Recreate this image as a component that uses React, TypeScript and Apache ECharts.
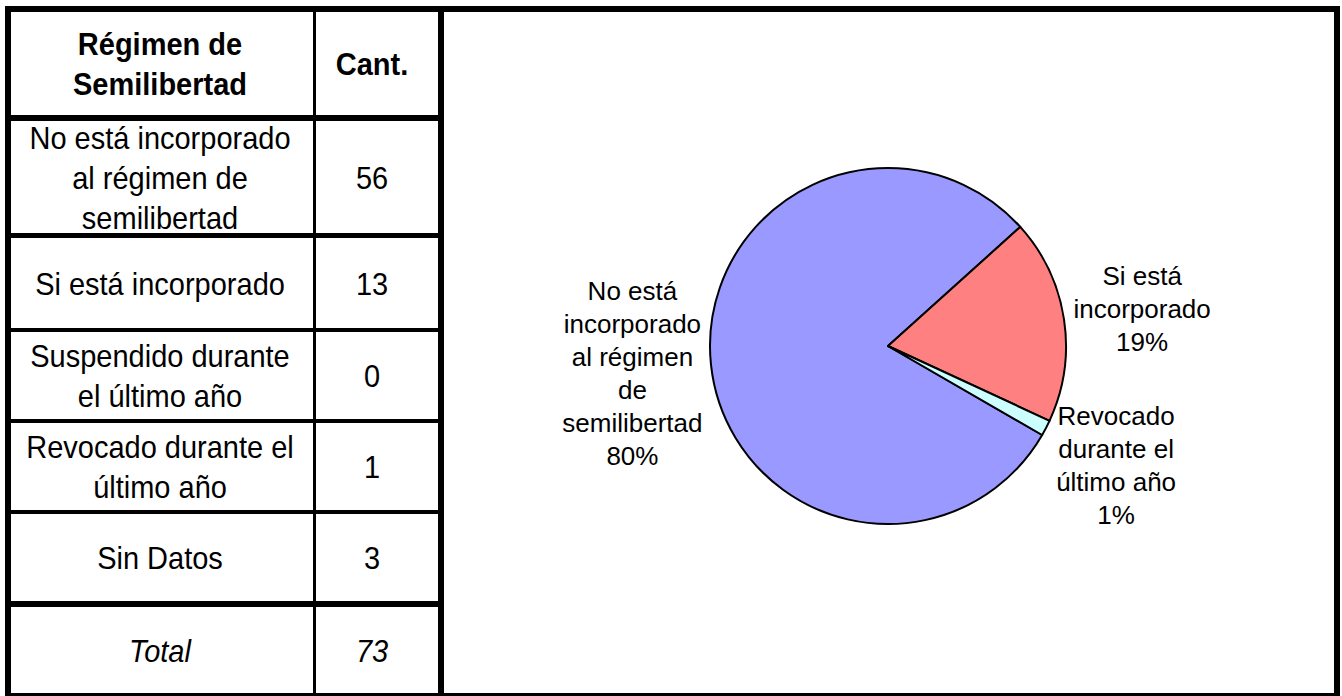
import React, { useEffect, useRef } from "react";
import * as echarts from "echarts";

// ---- data ----
const tableHeader = ["Régimen de\nSemilibertad", "Cant."];
const tableLabels = [
  "No está incorporado\nal régimen de\nsemilibertad",
  "Si está incorporado",
  "Suspendido durante\nel último año",
  "Revocado durante el\núltimo año",
  "Sin Datos",
];
const counts = [56, 13, 0, 1, 3];
const totalLabel = "Total";
const pieLabels = [
  "No está\nincorporado\nal régimen\nde\nsemilibertad",
  "Si está\nincorporado",
  "Suspendido\ndurante el\núltimo año",
  "Revocado\ndurante el\núltimo año",
  "Sin Datos",
];
const inPie = [true, true, true, true, false];
const sliceColors = ["#9999FF", "#FF8080", "#FFFFCC", "#CCFFFF", "#660066"];

const FONT = '"Liberation Sans", Arial, Helvetica, sans-serif';

export default function App() {
  const ref = useRef<HTMLDivElement>(null);
  useEffect(() => {
    if (!ref.current) return;
    const chart = echarts.init(ref.current, undefined, { renderer: "svg" });

    // layout of the table
    const xL = 5, xCol = 313, xSep = 438, xR = 1340, yT = 6, yB = 693;
    const hLines = [
      { y: 115, h: 6 },
      { y: 233, h: 5 },
      { y: 328, h: 4 },
      { y: 419, h: 4 },
      { y: 510, h: 4 },
      { y: 601, h: 6 },
    ];
    const rowEdges = [yT + 6, ...hLines.map((l) => l.y), yB];
    const rowBottomsTop = [yT + 6, ...hLines.map((l) => l.y + l.h)];
    const rowCenter = (i: number) => (rowBottomsTop[i] + rowEdges[i + 1]) / 2;
    const c1x = 160, c2x = 372;

    const black = { fill: "#000" };
    const g: any[] = [
      { type: "rect", shape: { x: xL, y: yT, width: xR - xL, height: 6 }, style: black },
      { type: "rect", shape: { x: xL, y: yB, width: xR - xL, height: 6 }, style: black },
      { type: "rect", shape: { x: xL, y: yT, width: 6, height: yB - yT + 6 }, style: black },
      { type: "rect", shape: { x: xR - 6, y: yT, width: 6, height: yB - yT + 6 }, style: black },
      { type: "rect", shape: { x: xSep, y: yT, width: 6, height: yB - yT + 6 }, style: black },
      { type: "rect", shape: { x: xCol, y: yT, width: 3, height: yB - yT }, style: black },
      ...hLines.map((l) => ({
        type: "rect",
        shape: { x: xL, y: l.y, width: xSep - xL, height: l.h },
        style: black,
      })),
    ];

    const sy = 1.1;
    const txt = (text: string, x: number, y: number, font: string) => ({
      type: "text",
      x,
      y,
      scaleY: sy,
      style: {
        text,
        font,
        fill: "#000",
        align: "center",
        verticalAlign: "middle",
        lineHeight: 40 / sy,
      },
    });
    const bodyFont = `29px ${FONT}`;
    g.push(txt(tableHeader[0], c1x, rowCenter(0), `bold 29px ${FONT}`));
    g.push(txt(tableHeader[1], c2x, rowCenter(0), `bold 29px ${FONT}`));
    tableLabels.forEach((lab, i) => {
      g.push(txt(lab, c1x, rowCenter(i + 1), bodyFont));
      g.push(txt(String(counts[i]), c2x, rowCenter(i + 1), bodyFont));
    });
    const total = counts.reduce((a, b) => a + b, 0);
    g.push(txt(totalLabel, c1x, rowCenter(6), `italic 29px ${FONT}`));
    g.push(txt(String(total), c2x, rowCenter(6), `italic 29px ${FONT}`));

    // pie
    const pieData = counts
      .map((v, i) => ({ v, i }))
      .filter((d) => inPie[d.i] && d.v > 0)
      .map((d) => ({
        name: pieLabels[d.i],
        value: d.v,
        itemStyle: { color: sliceColors[d.i] },
      }));
    const pieTotal = pieData.reduce((a, d) => a + d.value, 0);
    const cx = 888, cy = 346, radius = 178, startAngle = 330, labelR = 257;
    const cum: number[] = [];
    pieData.reduce((acc, d) => {
      cum.push(acc);
      return acc + d.value;
    }, 0);

    chart.setOption({
      animation: false,
      backgroundColor: "#fff",
      graphic: g,
      series: [
        {
          type: "pie",
          center: [cx, cy],
          radius,
          startAngle,
          clockwise: true,
          percentPrecision: 0,
          data: pieData,
          itemStyle: { borderColor: "#000", borderWidth: 2 },
          label: {
            show: true,
            formatter: "{b}\n{d}%",
            fontFamily: FONT,
            fontSize: 26,
            lineHeight: 33,
            color: "#000",
            align: "center",
          },
          labelLine: { show: false },
          labelLayout: (p: any) => {
            const i = p.dataIndex;
            const mid =
              ((startAngle - (360 * (cum[i] + pieData[i].value / 2)) / pieTotal) * Math.PI) / 180;
            return {
              x: cx + labelR * Math.cos(mid),
              y: cy - labelR * Math.sin(mid) + 1,
              align: "center",
              verticalAlign: "middle",
            };
          },
          emphasis: { disabled: true },
        },
      ],
    });
    return () => chart.dispose();
  }, []);
  return (
    <div
      ref={ref}
      style={{ position: "absolute", left: 0, top: 0, width: 1342, height: 696, background: "#fff" }}
    />
  );
}
